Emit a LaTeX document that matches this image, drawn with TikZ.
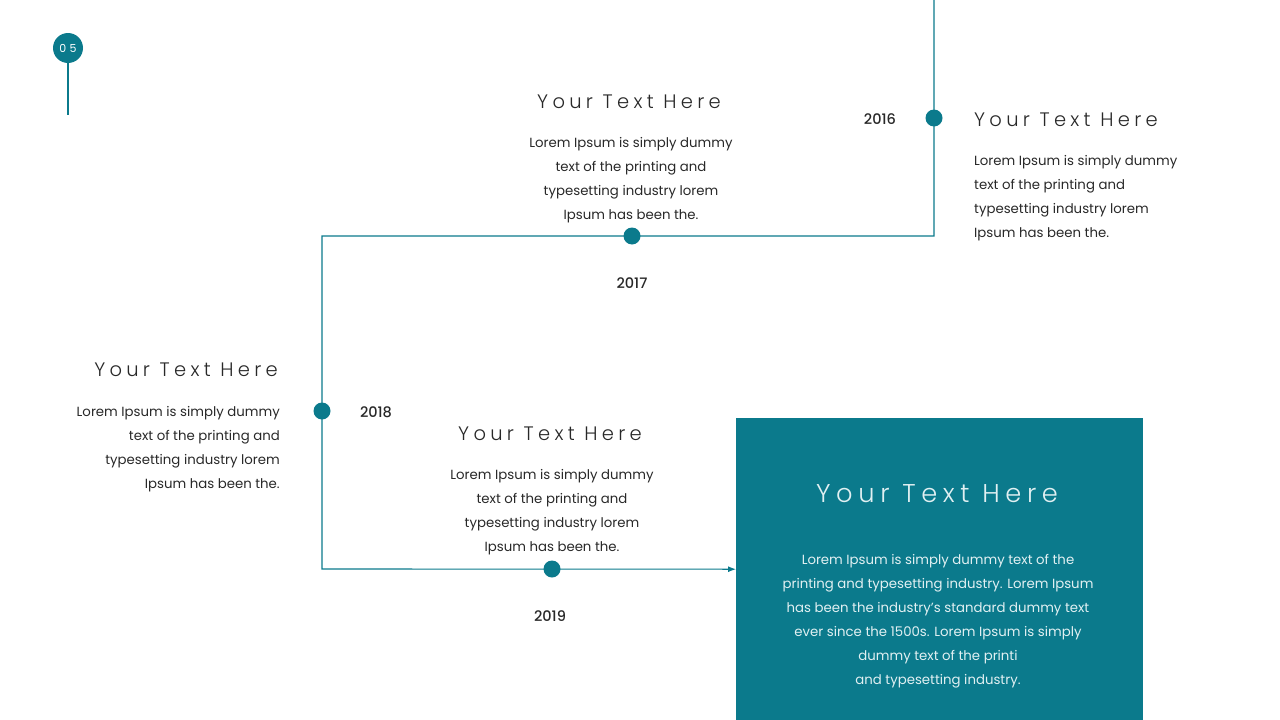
\documentclass[tikz,border=0pt]{standalone}
\usepackage{fontspec}
\setmainfont{Poppins}
\newfontfamily\titlefont[LetterSpace=22]{Poppins Light}
\newfontfamily\numfont[LetterSpace=30]{Poppins}
\newfontfamily\yearfont{Poppins Medium}
\usetikzlibrary{arrows.meta}
\definecolor{teal1}{RGB}{11,122,140}
\definecolor{txt}{RGB}{40,40,40}
\definecolor{boxtxt}{RGB}{225,240,242}
\tikzset{
  line/.style={draw=teal1, line width=1.1pt},
  dot/.style={circle, fill=teal1, minimum size=17pt, inner sep=0pt},
  ttl/.style={inner sep=0pt, text=txt, font=\titlefont\fontsize{19.5}{22}\selectfont},
  bigttl/.style={inner sep=0pt, text=boxtxt, font=\titlefont\fontsize{25.7}{30}\selectfont},
  body/.style={inner sep=0pt, text=txt, font=\fontsize{13.3}{24}\selectfont},
  boxbody/.style={inner sep=0pt, text=boxtxt, font=\fontsize{13.3}{24}\selectfont},
  year/.style={inner sep=0pt, text=txt, font=\yearfont\fontsize{14.5}{15}\selectfont},
}
\begin{document}
\begin{tikzpicture}[x=1pt,y=-1pt]
\useasboundingbox (0,0) rectangle (1280,720);
% badge
\node[circle, fill=teal1, minimum size=30pt, inner sep=0pt, text=white, font=\numfont\fontsize{11}{12}\selectfont] (badge) at (68,48) {05};
\coordinate (badgeend) at (68,115);
\draw[line] (badge.south) -- (badgeend);
% box
\node[fill=teal1, minimum width=407pt, minimum height=302pt, inner sep=0pt, anchor=north west] (box) at (736,418) {};
% path coordinates
\coordinate (top) at (934,0);
\coordinate (c1) at (934,236);
\coordinate (c2) at (322,236);
\coordinate (c3) at (322,569);
\coordinate (p2016) at (934,118);
\coordinate (p2017) at (632,236);
\coordinate (p2018) at (322,411);
\coordinate (p2019) at (552,569);
\draw[line, -{Latex[length=8pt,width=6pt]}] (top) -- (c1) -- (c2) -- (c3) -- (box.west);
\node[dot] (d2016) at (p2016) {};
\node[dot] (d2017) at (p2017) {};
\node[dot] (d2018) at (p2018) {};
\node[dot] (d2019) at (p2019) {};
% years
\node[year] (y2016) at (880,119) {2016};
\node[year] (y2017) at (632,283) {2017};
\node[year] (y2018) at (376,412) {2018};
\node[year] (y2019) at (550,616) {2019};
% block 2017
\node[ttl] (t1) at (629,102) {Your Text Here};
\node[body, align=center] (b1) at (631,180) {Lorem Ipsum is simply dummy\\text of the printing and\\typesetting industry lorem\\Ipsum has been the.};
% block 2016
\node[ttl, anchor=west] (t2) at (974,120) {Your Text Here};
\node[body, align=left, anchor=west] (b2) at (974,198) {Lorem Ipsum is simply dummy\\text of the printing and\\typesetting industry lorem\\Ipsum has been the.};
% block 2018
\node[ttl, anchor=east] (t3) at (278,370) {Your Text Here};
\node[body, align=right, anchor=east] (b3) at (280,449) {Lorem Ipsum is simply dummy\\text of the printing and\\typesetting industry lorem\\Ipsum has been the.};
% block 2019
\node[ttl] (t4) at (550,434) {Your Text Here};
\node[body, align=center] (b4) at (552,512) {Lorem Ipsum is simply dummy\\text of the printing and\\typesetting industry lorem\\Ipsum has been the.};
% box text
\node[bigttl] (t5) at (937,494) {Your Text Here};
\node[boxbody, align=center] (b5) at (938,621) {Lorem Ipsum is simply dummy text of the\\printing and typesetting industry. Lorem Ipsum\\has been the industry's standard dummy text\\ever since the 1500s. Lorem Ipsum is simply\\dummy text of the printi\\and typesetting industry.};
\end{tikzpicture}
\end{document}
